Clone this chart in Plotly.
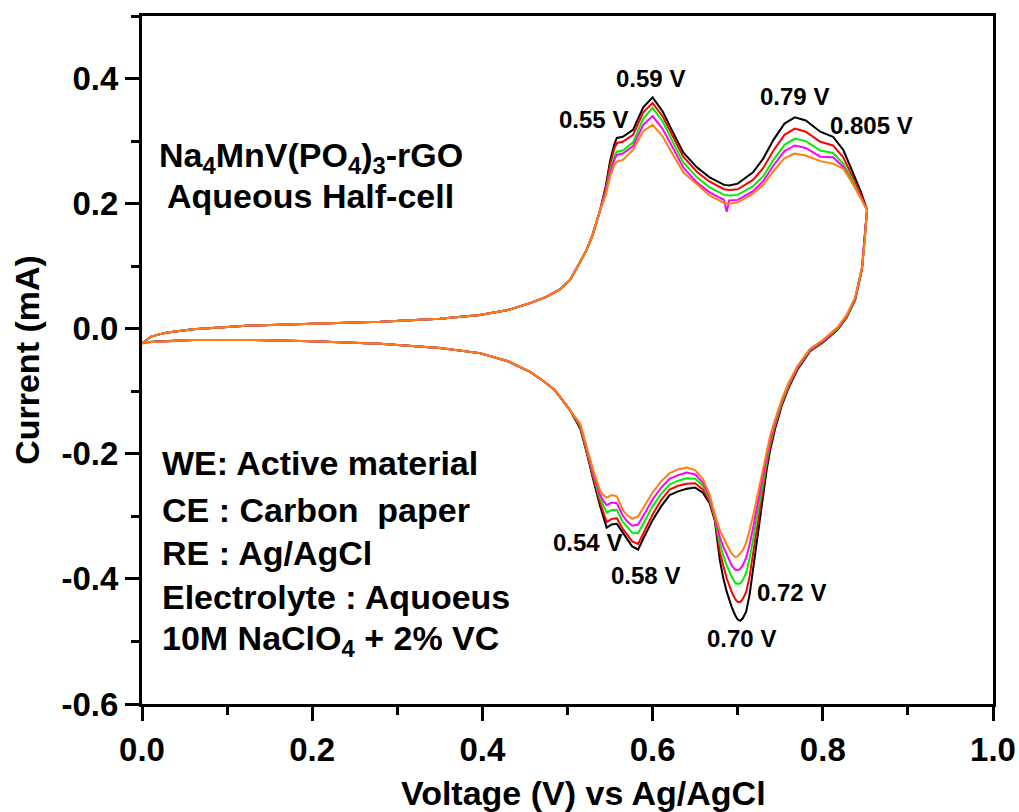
import plotly.graph_objects as go

# ---- axis ticks ----
X_TICKS = [0.0, 0.2, 0.4, 0.6, 0.8, 1.0]
X_TICK_LABELS = ["0.0", "0.2", "0.4", "0.6", "0.8", "1.0"]
X_MINOR = [0.1, 0.3, 0.5, 0.7, 0.9]
Y_TICKS = [-0.6, -0.4, -0.2, 0.0, 0.2, 0.4]
Y_TICK_LABELS = ["-0.6", "-0.4", "-0.2", "0.0", "0.2", "0.4"]
Y_MINOR = [-0.5, -0.3, -0.1, 0.1, 0.3, 0.5]

# ---- anodic sweep, low-voltage part shared by all cycles (V, mA) ----
V_OX_BASE = [0.000, 0.005, 0.010, 0.020, 0.030, 0.060, 0.127, 0.200, 0.280, 0.350,
             0.397, 0.430, 0.456, 0.475, 0.491, 0.503, 0.509, 0.515, 0.522, 0.529]
I_OX_BASE = [-0.024, -0.018, -0.013, -0.009, -0.006, -0.001, 0.005, 0.008, 0.011, 0.016,
             0.022, 0.030, 0.041, 0.051, 0.063, 0.078, 0.092, 0.107, 0.125, 0.148]

# ---- anodic sweep, redox region, per cycle ----
V_OX_PEAKS = [0.538, 0.545, 0.550, 0.555, 0.558, 0.565, 0.577, 0.589, 0.600, 0.612,
              0.624, 0.636, 0.652, 0.667, 0.684, 0.687, 0.690, 0.700, 0.718, 0.730,
              0.742, 0.755, 0.767, 0.780, 0.797, 0.812, 0.824, 0.834, 0.845, 0.852]
I_OX_CYCLE1 = [0.188, 0.228, 0.268, 0.295, 0.305, 0.307, 0.318, 0.354, 0.370, 0.347,
               0.314, 0.282, 0.258, 0.242, 0.230, 0.229, 0.229, 0.232, 0.250, 0.272,
               0.302, 0.328, 0.338, 0.333, 0.315, 0.307, 0.286, 0.254, 0.218, 0.190]
I_OX_CYCLE2 = [0.188, 0.225, 0.262, 0.288, 0.297, 0.299, 0.310, 0.346, 0.361, 0.339,
               0.307, 0.275, 0.251, 0.235, 0.223, 0.222, 0.222, 0.223, 0.238, 0.257,
               0.285, 0.310, 0.320, 0.315, 0.299, 0.293, 0.274, 0.246, 0.214, 0.190]
I_OX_CYCLE3 = [0.188, 0.220, 0.253, 0.276, 0.283, 0.285, 0.298, 0.336, 0.353, 0.331,
               0.298, 0.266, 0.242, 0.226, 0.214, 0.213, 0.213, 0.214, 0.228, 0.244,
               0.270, 0.294, 0.304, 0.300, 0.285, 0.281, 0.264, 0.240, 0.211, 0.190]
I_OX_CYCLE4 = [0.188, 0.218, 0.249, 0.270, 0.278, 0.280, 0.292, 0.326, 0.340, 0.319,
               0.289, 0.258, 0.234, 0.218, 0.206, 0.187, 0.205, 0.206, 0.220, 0.236,
               0.261, 0.284, 0.293, 0.289, 0.275, 0.274, 0.259, 0.236, 0.209, 0.190]
I_OX_CYCLE5 = [0.188, 0.214, 0.243, 0.262, 0.267, 0.270, 0.286, 0.316, 0.326, 0.307,
               0.278, 0.250, 0.231, 0.213, 0.201, 0.200, 0.200, 0.202, 0.216, 0.230,
               0.252, 0.273, 0.280, 0.277, 0.268, 0.264, 0.256, 0.235, 0.208, 0.190]

# ---- cathodic sweep, redox region, per cycle ----
V_RED_PEAKS = [0.852, 0.849, 0.846, 0.838, 0.828, 0.817, 0.800, 0.785, 0.770, 0.760,
               0.752, 0.744, 0.738, 0.734, 0.730, 0.726, 0.722, 0.718, 0.714, 0.710,
               0.706, 0.703, 0.700, 0.697, 0.693, 0.687, 0.683, 0.679, 0.673, 0.667,
               0.659, 0.650, 0.640, 0.630, 0.620, 0.610, 0.600, 0.590, 0.583, 0.576,
               0.570, 0.565, 0.558, 0.552, 0.546, 0.542, 0.538, 0.530, 0.523, 0.515]
I_RED_CYCLE1 = [0.190, 0.135, 0.095, 0.046, 0.018, -0.002, -0.022, -0.036, -0.066, -0.094,
                -0.122, -0.160, -0.195, -0.226, -0.265, -0.306, -0.346, -0.386, -0.425, -0.452,
                -0.463, -0.467, -0.465, -0.458, -0.445, -0.420, -0.398, -0.370, -0.306, -0.279,
                -0.262, -0.254, -0.256, -0.260, -0.266, -0.284, -0.306, -0.333, -0.353, -0.348,
                -0.336, -0.327, -0.312, -0.313, -0.318, -0.300, -0.282, -0.240, -0.200, -0.160]
I_RED_CYCLE2 = [0.190, 0.136, 0.096, 0.047, 0.019, -0.001, -0.021, -0.035, -0.064, -0.092,
                -0.120, -0.156, -0.189, -0.218, -0.254, -0.291, -0.328, -0.362, -0.396, -0.421,
                -0.432, -0.437, -0.437, -0.432, -0.421, -0.399, -0.380, -0.357, -0.303, -0.276,
                -0.257, -0.247, -0.248, -0.251, -0.257, -0.274, -0.297, -0.325, -0.344, -0.340,
                -0.329, -0.320, -0.303, -0.304, -0.309, -0.293, -0.277, -0.237, -0.198, -0.158]
I_RED_CYCLE3 = [0.190, 0.136, 0.097, 0.048, 0.020, 0.000, -0.020, -0.034, -0.063, -0.090,
                -0.117, -0.152, -0.183, -0.212, -0.244, -0.279, -0.308, -0.338, -0.367, -0.390,
                -0.402, -0.407, -0.408, -0.406, -0.397, -0.378, -0.362, -0.343, -0.301, -0.272,
                -0.251, -0.240, -0.239, -0.243, -0.249, -0.264, -0.284, -0.309, -0.327, -0.326,
                -0.317, -0.309, -0.290, -0.290, -0.294, -0.283, -0.270, -0.232, -0.195, -0.156]
I_RED_CYCLE4 = [0.190, 0.137, 0.097, 0.049, 0.021, 0.001, -0.019, -0.033, -0.062, -0.088,
                -0.114, -0.149, -0.178, -0.205, -0.234, -0.265, -0.293, -0.319, -0.345, -0.366,
                -0.378, -0.384, -0.386, -0.385, -0.379, -0.362, -0.348, -0.333, -0.298, -0.269,
                -0.246, -0.233, -0.230, -0.234, -0.240, -0.254, -0.273, -0.297, -0.313, -0.315,
                -0.308, -0.299, -0.279, -0.278, -0.282, -0.275, -0.264, -0.229, -0.193, -0.154]
I_RED_CYCLE5 = [0.190, 0.137, 0.098, 0.050, 0.022, 0.002, -0.018, -0.032, -0.060, -0.086,
                -0.112, -0.145, -0.172, -0.198, -0.224, -0.252, -0.278, -0.300, -0.322, -0.342,
                -0.354, -0.360, -0.364, -0.365, -0.360, -0.345, -0.334, -0.322, -0.296, -0.265,
                -0.240, -0.226, -0.222, -0.225, -0.231, -0.244, -0.262, -0.285, -0.300, -0.304,
                -0.298, -0.290, -0.268, -0.266, -0.270, -0.266, -0.258, -0.225, -0.190, -0.152]

# ---- cathodic sweep, low-voltage part shared by all cycles ----
V_RED_BASE = [0.503, 0.485, 0.470, 0.456, 0.430, 0.397, 0.350, 0.280, 0.200, 0.127,
              0.060, 0.020, 0.005, 0.000]
I_RED_BASE = [-0.130, -0.098, -0.082, -0.069, -0.052, -0.039, -0.031, -0.024, -0.020, -0.018,
              -0.018, -0.020, -0.021, -0.022]

CYCLE_NAMES = ["Cycle 1", "Cycle 2", "Cycle 3", "Cycle 4", "Cycle 5"]
CYCLE_COLORS = ["#000000", "#FF0000", "#00EE00", "#FF00FF", "#FF7F0E"]
I_OX = [I_OX_CYCLE1, I_OX_CYCLE2, I_OX_CYCLE3, I_OX_CYCLE4, I_OX_CYCLE5]
I_RED = [I_RED_CYCLE1, I_RED_CYCLE2, I_RED_CYCLE3, I_RED_CYCLE4, I_RED_CYCLE5]

# ---- peak annotations (label, x, y) ----
PEAK_LABELS = ["0.59 V", "0.55 V", "0.79 V", "0.805 V", "0.54 V", "0.58 V", "0.72 V", "0.70 V"]
PEAK_LABEL_X = [0.597, 0.530, 0.767, 0.857, 0.523, 0.592, 0.763, 0.704]
PEAK_LABEL_Y = [0.400, 0.334, 0.371, 0.325, -0.342, -0.394, -0.422, -0.496]

TITLE_LINES = ["Na<sub>4</sub>MnV(PO<sub>4</sub>)<sub>3</sub>-rGO", "Aqueous Half-cell"]
CELL_LINES = ["WE: Active material", "CE : Carbon  paper", "RE : Ag/AgCl",
              "Electrolyte : Aquoeus", "10M NaClO<sub>4</sub> + 2% VC"]

FONT = "Liberation Sans, Arial, Helvetica, sans-serif"

fig = go.Figure()
for name, color, i_ox, i_red in zip(CYCLE_NAMES, CYCLE_COLORS, I_OX, I_RED):
    fig.add_trace(go.Scatter(
        x=V_OX_BASE + V_OX_PEAKS + V_RED_PEAKS + V_RED_BASE,
        y=I_OX_BASE + i_ox + i_red + I_RED_BASE,
        mode="lines", name=name,
        line=dict(color=color, width=2),
        showlegend=False,
    ))

annotations = []
for txt, x, y in zip(PEAK_LABELS, PEAK_LABEL_X, PEAK_LABEL_Y):
    annotations.append(dict(x=x, y=y, xref="x", yref="y", text=txt, showarrow=False,
                            xanchor="center", yanchor="middle",
                            font=dict(family=FONT, size=24, color="black", weight="bold")))

for txt, y in zip(TITLE_LINES, [0.274, 0.213]):
    annotations.append(dict(x=0.198, y=y, xref="x", yref="y", text=txt, showarrow=False,
                            xanchor="center", yanchor="middle",
                            font=dict(family=FONT, size=34, color="black", weight="bold")))

for txt, y in zip(CELL_LINES, [-0.214, -0.290, -0.358, -0.429, -0.498]):
    annotations.append(dict(x=0.021, y=y, xref="x", yref="y", text=txt, showarrow=False,
                            xanchor="left", yanchor="middle",
                            font=dict(family=FONT, size=34, color="black", weight="bold")))

# x-axis title, placed under the tick labels
annotations.append(dict(x=0.519, y=-0.129, xref="paper", yref="paper",
                        text="Voltage (V) vs Ag/AgCl", showarrow=False,
                        xanchor="center", yanchor="middle",
                        font=dict(family=FONT, size=34, color="black", weight="bold")))

axis_common = dict(
    ticks="outside", ticklen=14, tickwidth=2.5, tickcolor="black",
    showline=True, linewidth=3, linecolor="black", mirror=True,
    showgrid=False, zeroline=False,
    tickfont=dict(family=FONT, size=33, color="black", weight="bold"),
    automargin=False,
)

fig.update_layout(
    width=1019, height=812,
    margin=dict(l=142, r=26, t=16, b=108),
    paper_bgcolor="white", plot_bgcolor="white",
    font=dict(family=FONT, color="black"),
    xaxis=dict(
        range=[0, 1.0], tickmode="array", tickvals=X_TICKS, ticktext=X_TICK_LABELS,
        minor=dict(tickmode="array", tickvals=X_MINOR, ticks="outside", ticklen=8,
                   tickwidth=2.5, tickcolor="black", showgrid=False),
        **axis_common,
    ),
    yaxis=dict(
        range=[-0.6, 0.5], tickmode="array", tickvals=Y_TICKS, ticktext=Y_TICK_LABELS,
        minor=dict(tickmode="array", tickvals=Y_MINOR, ticks="outside", ticklen=8,
                   tickwidth=2.5, tickcolor="black", showgrid=False),
        title=dict(text="Current (mA)", standoff=12,
                   font=dict(family=FONT, size=34, color="black", weight="bold")),
        **axis_common,
    ),
    annotations=annotations,
)

fig.write_html("out.html")
